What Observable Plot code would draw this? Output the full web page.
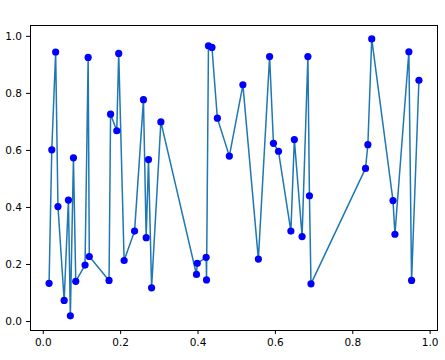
<!DOCTYPE html>
<html>
<head>
<meta charset="utf-8">
<script src="https://cdn.jsdelivr.net/npm/d3@7"></script>
<script src="https://cdn.jsdelivr.net/npm/@observablehq/plot@0.6"></script>
<style>
  html, body { margin: 0; padding: 0; background: #fff; }
  svg { display: block; }
</style>
</head>
<body>
<div id="chart"></div>
<script>
const xs = [0.015,0.022,0.032,0.038,0.054,0.065,0.070,0.078,0.084,0.108,0.116,0.119,0.170,0.174,0.190,0.195,0.209,0.236,0.259,0.266,0.272,0.280,0.304,0.396,0.398,0.421,0.422,0.427,0.436,0.450,0.481,0.516,0.556,0.585,0.595,0.608,0.640,0.649,0.669,0.684,0.688,0.692,0.833,0.839,0.849,0.904,0.909,0.945,0.952,0.971];
const ys = [0.134,0.602,0.945,0.403,0.074,0.426,0.020,0.574,0.141,0.198,0.926,0.228,0.144,0.727,0.669,0.940,0.214,0.317,0.778,0.294,0.568,0.118,0.700,0.165,0.204,0.225,0.146,0.967,0.961,0.713,0.580,0.830,0.219,0.929,0.625,0.597,0.317,0.638,0.298,0.929,0.441,0.132,0.537,0.620,0.991,0.424,0.306,0.946,0.144,0.846];
const xTicks = [0, 0.2, 0.4, 0.6, 0.8, 1.0];
const yTicks = [0, 0.2, 0.4, 0.6, 0.8, 1.0];

const data = xs.map((x, i) => ({x, y: ys[i]}));

const chart = Plot.plot({
  width: 445,
  height: 360,
  marginLeft: 30,
  marginRight: 8,
  marginTop: 25,
  marginBottom: 30,
  style: {fontFamily: "DejaVu Sans", fontSize: "10.5px", color: "#000", background: "#fff"},
  x: {domain: [-0.033, 1.019], ticks: xTicks, tickFormat: d3.format(".1f"), tickSize: 4, tickPadding: 4, label: null},
  y: {domain: [-0.0315, 1.038], ticks: yTicks, tickFormat: d3.format(".1f"), tickSize: 4, tickPadding: 4.5, label: null},
  marks: [
    Plot.line(data, {x: "x", y: "y", stroke: "#1f77b4", strokeWidth: 1.5}),
    Plot.dot(data, {x: "x", y: "y", r: 3.6, fill: "#0000ff", stroke: "none"}),
    Plot.frame({stroke: "#000", strokeWidth: 1})
  ]
});
document.getElementById("chart").appendChild(chart);
</script>
</body>
</html>
